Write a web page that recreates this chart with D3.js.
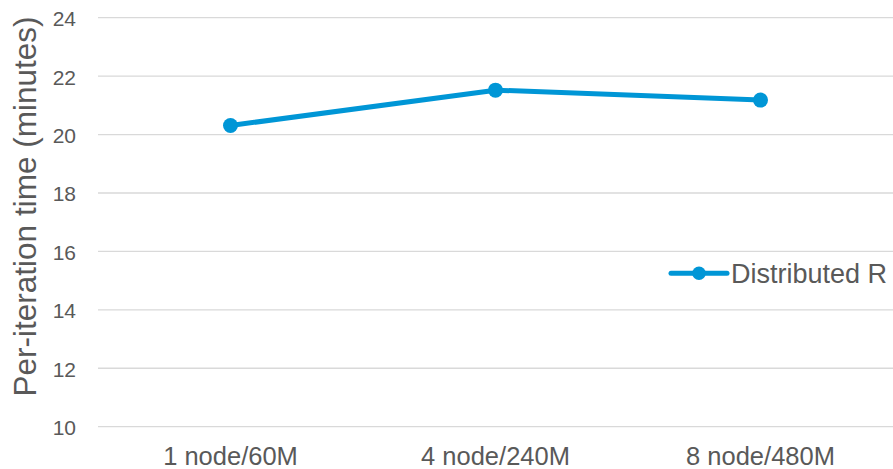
<!DOCTYPE html>
<html>
<head>
<meta charset="utf-8">
<script src="https://cdn.jsdelivr.net/npm/d3@7"></script>
<style>
  html, body { margin: 0; padding: 0; background: #fff; }
  svg { display: block; font-family: "Liberation Sans", Arial, sans-serif; }
</style>
</head>
<body>
<svg id="chart" width="893" height="469"></svg>
<script>
// Per-iteration time by cluster size
const categories = ["1 node/60M", "4 node/240M", "8 node/480M"];
const seriesName = "Distributed R";
const values = [20.31, 21.52, 21.18];
const yTicks = [10, 12, 14, 16, 18, 20, 22, 24];
const yTitle = "Per-iteration time (minutes)";

const W = 893, H = 469;
const plot = { left: 98, right: 893, top: 17.7, bottom: 426.7 };
const lineColor = "#0096d6";
const textColor = "#595959";
const gridColor = "#d9d9d9";

const svg = d3.select("#chart");

const x = d3.scaleBand().domain(categories).range([plot.left, plot.right]);
const y = d3.scaleLinear().domain([10, 24]).range([plot.bottom, plot.top]);

// horizontal gridlines
svg.append("g").selectAll("line").data(yTicks).join("line")
  .attr("x1", plot.left).attr("x2", plot.right)
  .attr("y1", d => y(d)).attr("y2", d => y(d))
  .attr("stroke", gridColor).attr("stroke-width", 1.3);

// y axis labels
const yAxis = svg.append("g")
  .attr("transform", `translate(${plot.left - 22},0)`)
  .call(d3.axisLeft(y).tickValues(yTicks).tickSize(0).tickPadding(0));
yAxis.select(".domain").remove();
yAxis.selectAll("text")
  .attr("fill", textColor)
  .attr("font-size", 21)
  .attr("dy", "0.38em");

// x axis labels
const xAxis = svg.append("g")
  .attr("transform", `translate(0,${plot.bottom})`)
  .call(d3.axisBottom(x).tickSize(0).tickPadding(0));
xAxis.select(".domain").remove();
xAxis.selectAll("text")
  .attr("fill", textColor)
  .attr("font-size", 25.5)
  .attr("dy", null)
  .attr("y", 38);

// y axis title
svg.append("text")
  .attr("transform", `translate(36,206.5) rotate(-90)`)
  .attr("text-anchor", "middle")
  .attr("fill", textColor)
  .attr("font-size", 31.5)
  .text(yTitle);

// series line
const cx = d => x(d) + x.bandwidth() / 2;
const line = d3.line().x((d, i) => cx(categories[i])).y(d => y(d));
svg.append("path")
  .datum(values)
  .attr("d", line)
  .attr("fill", "none")
  .attr("stroke", lineColor)
  .attr("stroke-width", 5)
  .attr("stroke-linejoin", "round");

svg.append("g").selectAll("circle").data(values).join("circle")
  .attr("cx", (d, i) => cx(categories[i]))
  .attr("cy", d => y(d))
  .attr("r", 7.5)
  .attr("fill", lineColor);

// legend
const legend = svg.append("g").attr("transform", "translate(671,273.3)");
legend.append("line")
  .attr("x1", 0).attr("x2", 56).attr("y1", 0).attr("y2", 0)
  .attr("stroke", lineColor).attr("stroke-width", 5).attr("stroke-linecap", "round");
legend.append("circle").attr("cx", 28).attr("cy", 0).attr("r", 6.8).attr("fill", lineColor);
legend.append("text")
  .attr("x", 60).attr("y", 9.5)
  .attr("fill", textColor)
  .attr("font-size", 27)
  .text(seriesName);
</script>
</body>
</html>
